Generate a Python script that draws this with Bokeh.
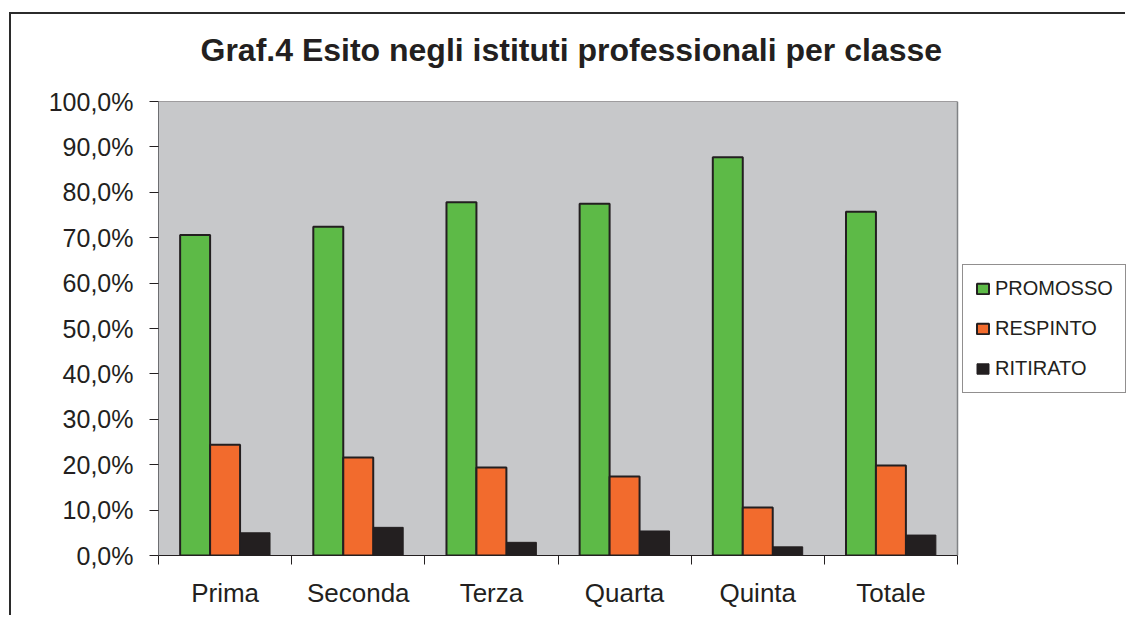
from bokeh.plotting import figure
from bokeh.models import (FixedTicker, Range1d, Legend, LegendItem, ColumnDataSource,
                          BoxAnnotation, Span, Title)
from bokeh.transform import dodge
from bokeh.embed import file_html
from bokeh.resources import INLINE

categories = ["Prima", "Seconda", "Terza", "Quarta", "Quinta", "Totale"]
promosso = [70.6, 72.4, 77.8, 77.5, 87.7, 75.7]
respinto = [24.4, 21.6, 19.4, 17.4, 10.6, 19.8]
ritirato = [5.0, 6.2, 2.9, 5.4, 1.9, 4.5]
y_ticks = [0, 10, 20, 30, 40, 50, 60, 70, 80, 90, 100]
y_tick_labels = ["0,0%", "10,0%", "20,0%", "30,0%", "40,0%", "50,0%",
                 "60,0%", "70,0%", "80,0%", "90,0%", "100,0%"]
title_text = "Graf.4 Esito negli istituti professionali per classe"

DARK = "#231f20"
FONT = "Liberation Sans"
N = len(categories)

# layout (pixels)
W, H = 1116, 603
LEFT, TOP, BOTTOM = 147, 87, 62
PLOT_W = 799          # width of the grey plot area
FRAME_W = W - LEFT    # frame extends to the right edge (legend lives there)

centers = [i + 0.5 for i in range(N)]
source = ColumnDataSource(dict(x=centers, cat=categories, promosso=promosso,
                               respinto=respinto, ritirato=ritirato))
grid_src = ColumnDataSource(dict(y=y_ticks, x0=[0] * len(y_ticks), x1=[N] * len(y_ticks)))

p = figure(width=W, height=H, x_range=Range1d(0, N * FRAME_W / PLOT_W),
           y_range=Range1d(0, 100), output_backend="svg", toolbar_location=None,
           min_border_left=LEFT, min_border_right=0, min_border_top=TOP,
           min_border_bottom=BOTTOM, title=title_text)
p.styles = {"margin-left": "9px", "margin-top": "12px",
            "border-left": "2px solid #2b2b2b", "border-top": "2px solid #2b2b2b"}

p.title.text_font = FONT
p.title.text_font_size = "32px"
p.title.text_font_style = "bold"
p.title.text_color = DARK
p.title.align = "left"
p.title.offset = 42
p.title.standoff = 10

# spacer between the title and the plot area
p.add_layout(Title(text=" ", text_font_size="2px", standoff=25), "above")

p.background_fill_color = "white"
p.border_fill_color = "white"
p.outline_line_color = None

# grey plot area
p.add_layout(BoxAnnotation(left=0, right=N, bottom=0, top=100, fill_color="#c7c8ca",
                           fill_alpha=1, line_color=None, level="underlay"))
# gridlines limited to the plot area
p.segment(x0="x0", x1="x1", y0="y", y1="y", source=grid_src, line_color=DARK,
          line_width=1, level="underlay")
p.add_layout(Span(location=N, dimension="height", line_color="#808285", line_width=1.5))

w = 0.225
r1 = p.vbar(x=dodge("x", -w, range=None), top="promosso", width=w, source=source,
            fill_color="#5dba47", line_color=DARK, line_width=2)
r2 = p.vbar(x=dodge("x", 0, range=None), top="respinto", width=w, source=source,
            fill_color="#f26b2d", line_color=DARK, line_width=2)
r3 = p.vbar(x=dodge("x", w, range=None), top="ritirato", width=w, source=source,
            fill_color=DARK, line_color=DARK, line_width=1)

# x axis: labels at centers, tick marks between categories (minor ticks)
p.xaxis.bounds = (0, N)
p.xaxis.ticker = FixedTicker(ticks=centers, minor_ticks=list(range(N + 1)))
p.xaxis.major_label_overrides = {c: lab for c, lab in zip(centers, categories)}
p.xaxis.major_tick_line_color = None
p.xaxis.major_tick_out = 0
p.xaxis.major_tick_in = 0
p.xaxis.minor_tick_out = 9
p.xaxis.minor_tick_in = 0
p.xaxis.minor_tick_line_color = DARK
p.xaxis.axis_line_color = DARK
p.xaxis.major_label_standoff = 13
p.xaxis.major_label_text_font = FONT
p.xaxis.major_label_text_font_size = "26px"
p.xaxis.major_label_text_color = DARK

p.yaxis.ticker = FixedTicker(ticks=y_ticks, minor_ticks=[])
p.yaxis.major_label_overrides = {t: lab for t, lab in zip(y_ticks, y_tick_labels)}
p.yaxis.major_tick_out = 9
p.yaxis.major_tick_in = 0
p.yaxis.major_tick_line_color = DARK
p.yaxis.axis_line_color = "#6d6e71"
p.yaxis.major_label_standoff = 16
p.yaxis.major_label_text_font = FONT
p.yaxis.major_label_text_font_size = "25px"
p.yaxis.major_label_text_color = DARK

p.xgrid.grid_line_color = None
p.ygrid.grid_line_color = None

legend = Legend(items=[LegendItem(label="PROMOSSO", renderers=[r1]),
                       LegendItem(label="RESPINTO", renderers=[r2]),
                       LegendItem(label="RITIRATO", renderers=[r3])],
                location=(PLOT_W + 5, 162))
legend.label_text_font = FONT
legend.label_text_font_size = "20px"
legend.label_text_color = DARK
legend.glyph_width = 15
legend.glyph_height = 13
legend.label_height = 20
legend.label_standoff = 5
legend.spacing = 17
legend.padding = 12
legend.margin = 0
legend.border_line_color = DARK
legend.border_line_width = 1.5
legend.background_fill_color = "white"
legend.background_fill_alpha = 1
p.add_layout(legend, "center")

open("out.html", "w").write(file_html(p, INLINE))
